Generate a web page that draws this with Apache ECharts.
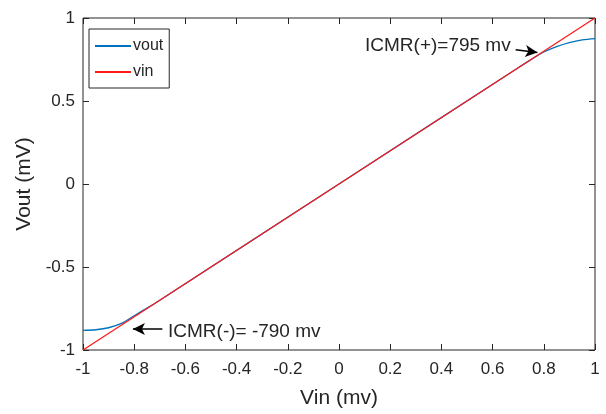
<!DOCTYPE html>
<html>
<head>
<meta charset="utf-8">
<script src="https://cdn.jsdelivr.net/npm/echarts@6/dist/echarts.min.js"></script>
<style>
  html, body { margin: 0; padding: 0; background: #fff; }
  #chart { width: 606px; height: 414px; }
</style>
</head>
<body>
<div id="chart"></div>
<script>
// data
const voutX = [-1, -0.95, -0.9, -0.85, -0.8, -0.75, -0.7, 0, 0.7, 0.75, 0.8, 0.85, 0.9, 0.95, 1];
const voutY = [-0.882, -0.878, -0.866, -0.84, -0.794, -0.748, -0.7, 0, 0.7, 0.749, 0.795, 0.828, 0.852, 0.868, 0.876];
const vinX = [-1, 1];
const vinY = [-1, 1];
const xTicks = [-1, 1, 0.2];
const yTicks = [-1, 1, 0.5];

const axisColor = '#262626';
const font = 'Arial, "Liberation Sans", sans-serif';

const chart = echarts.init(document.getElementById('chart'));

// box comes from the grid border, axes only add the inward ticks
const line = () => ({ show: false, onZero: false });
const tick = () => ({ show: true, inside: true, length: 6, lineStyle: { color: axisColor } });

const option = {
  animation: false,
  grid: { left: 83, right: 11, top: 18, bottom: 61, show: true, borderColor: axisColor, borderWidth: 1 },
  legend: {
    left: 89, top: 29,
    orient: 'vertical',
    itemWidth: 36, itemHeight: 2, itemGap: 10,
    padding: [9, 6, 8, 6],
    borderColor: axisColor, borderWidth: 1,
    backgroundColor: '#fff',
    textStyle: { fontFamily: font, fontSize: 16, color: axisColor, padding: [0, 0, 0, -3] },
    icon: 'rect',
    data: ['vout', 'vin']
  },
  xAxis: [
    {
      type: 'value', position: 'bottom',
      min: xTicks[0], max: xTicks[1], interval: xTicks[2],
      axisLine: line(), axisTick: tick(), splitLine: { show: false },
      name: 'Vin (mv)', nameLocation: 'middle', nameGap: 38,
      nameTextStyle: { fontFamily: font, fontSize: 21, color: axisColor },
      axisLabel: { fontFamily: font, fontSize: 17, color: axisColor, margin: 11 }
    },
    {
      type: 'value', position: 'top',
      min: xTicks[0], max: xTicks[1], interval: xTicks[2],
      axisLine: line(), axisTick: tick(), splitLine: { show: false },
      axisLabel: { show: false }
    }
  ],
  yAxis: [
    {
      type: 'value', position: 'left',
      min: yTicks[0], max: yTicks[1], interval: yTicks[2],
      axisLine: line(), axisTick: tick(), splitLine: { show: false },
      name: 'Vout (mV)', nameLocation: 'middle', nameGap: 42,
      nameTextStyle: { fontFamily: font, fontSize: 21, color: axisColor },
      axisLabel: { fontFamily: font, fontSize: 17, color: axisColor, margin: 8 }
    },
    {
      type: 'value', position: 'right',
      min: yTicks[0], max: yTicks[1], interval: yTicks[2],
      axisLine: line(), axisTick: tick(), splitLine: { show: false },
      axisLabel: { show: false }
    }
  ],
  series: [
    {
      name: 'vout',
      type: 'line',
      showSymbol: false,
      smooth: 0.3,
      lineStyle: { color: '#0072BD', width: 1.3 },
      itemStyle: { color: '#0072BD' },
      data: voutX.map((x, i) => [x, voutY[i]])
    },
    {
      name: 'vin',
      type: 'line',
      showSymbol: false,
      lineStyle: { color: '#FF1A1A', width: 1.3 },
      itemStyle: { color: '#FF1A1A' },
      data: vinX.map((x, i) => [x, vinY[i]]),
      markLine: {
        silent: true,
        symbol: ['none', 'arrow'],
        symbolSize: [9, 12],
        label: { show: false },
        lineStyle: { color: '#000', width: 1.5, type: 'solid' },
        data: [
          [{ coord: [0.69, 0.809] }, { coord: [0.775, 0.792] }],
          [{ coord: [-0.69, -0.873] }, { coord: [-0.805, -0.873] }]
        ]
      }
    }
  ],
  graphic: [
    {
      type: 'text', left: 365, top: 36,
      style: { text: 'ICMR(+)=795 mv', font: '19px ' + font, fill: axisColor }
    },
    {
      type: 'text', left: 168, top: 322,
      style: { text: 'ICMR(-)= -790 mv', font: '19px ' + font, fill: axisColor }
    }
  ]
};

chart.setOption(option);
</script>
</body>
</html>
